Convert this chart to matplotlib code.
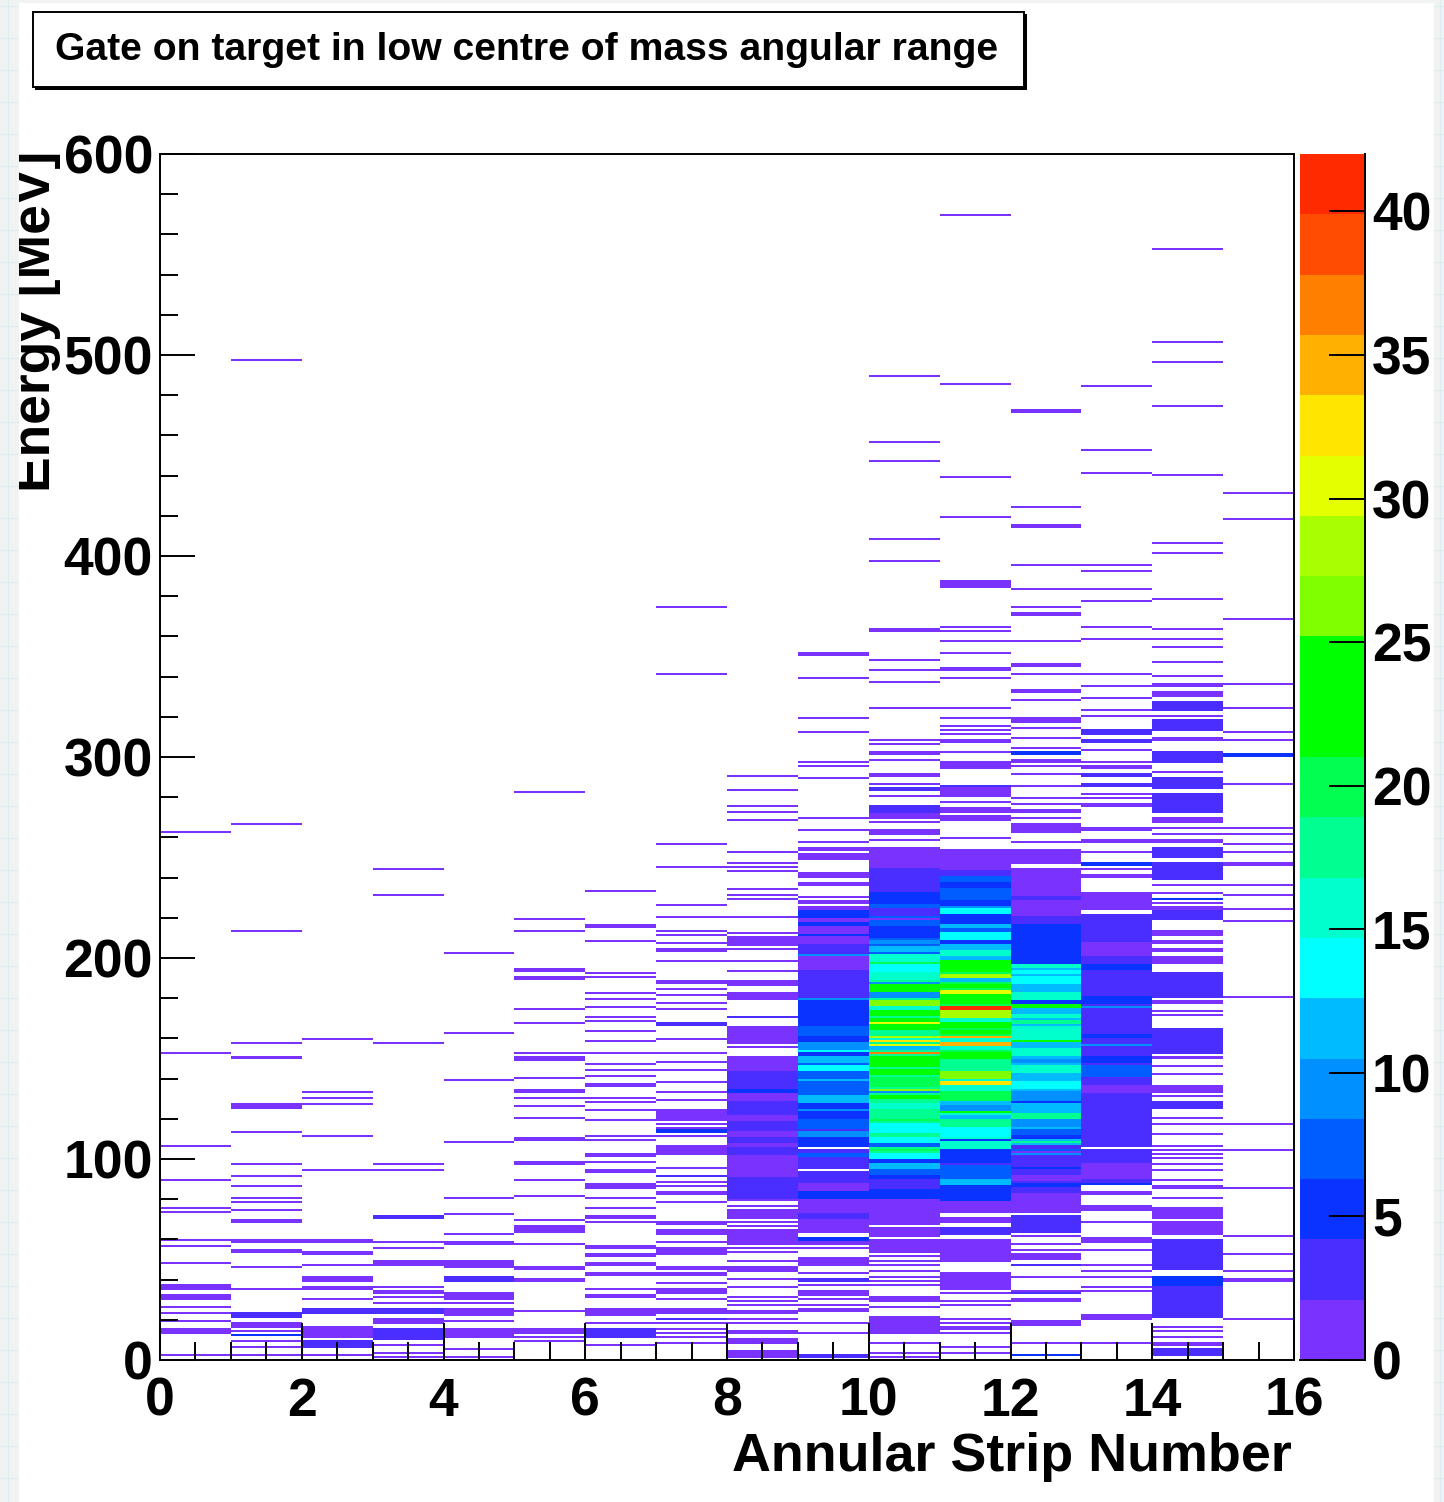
import numpy as np
import matplotlib
matplotlib.use("Agg")
import matplotlib.pyplot as plt
from matplotlib.colors import ListedColormap, BoundaryNorm
from matplotlib.lines import Line2D
from matplotlib.patches import Rectangle
from matplotlib.ticker import MultipleLocator
from matplotlib.transforms import Bbox

plt.rcParams['font.family'] = ['Liberation Sans', 'DejaVu Sans']

# single 1 MeV bins holding one count, per strip
strip0_lines = [2.5, 19.6, 23.3, 26.9, 48.8, 56.1, 59.9, 73.3, 75.8, 89, 106.2, 152.5, 262.4]
strip1_lines = [2.2, 6.7, 9.7, 14.3, 35.7, 46.3, 74.3, 78.1, 80.5, 86.6, 91.6, 97.5, 113.5, 150.2, 157.4, 213.5, 266, 497.5]
strip2_lines = [2, 11.2, 30.5, 47.5, 94, 111, 127, 130.6, 133, 159.9]
strip3_lines = [1.7, 3.4, 7.5, 28.1, 31.5, 36.2, 55.1, 58.9, 94, 97.5, 157.4, 231.9, 244.2]
strip4_lines = [1.7, 5, 19.6, 22, 28.1, 62.2, 72, 80.5, 108.7, 139, 162.3, 202.6]
strip5_lines = [9.7, 11.6, 24.6, 45.1, 46.8, 57.9, 69.3, 81.8, 89, 120.8, 126.9, 130.5, 140.3, 152.6, 167.2, 174.5, 213.4, 219.4, 282.6]
strip6_lines = [7.8, 18, 35.7, 68.4, 75.7, 80.5, 93.9, 94, 98.2, 109.1, 111.1, 119.8, 124.4, 128, 130.5, 141.5, 144, 147.6, 152.6,
                158.6, 163.4, 168.3, 170.8, 175.8, 179.4, 182.9, 190.2, 192.7, 208.6, 233]
strip7_lines = [8.3, 11.7, 13.3, 15.8, 18, 58.6, 78.1, 86.6, 88.3, 95.4, 111.1, 115.8, 117.3, 129.4, 133, 138.8, 144, 148.4, 159.9,
                174.5, 177, 181.6, 184.1, 198.8, 207.8, 211.4, 213.4, 220.9, 226.9, 245.8, 256.2, 341.8, 374.6]
strip8_lines = [20, 18.3, 27.4, 29.9, 31.5, 36.5, 40.7, 49, 53.1, 55.3, 57.2, 66, 68.4, 76.8, 79.3, 100, 103.7, 155, 206, 212.3,
                229.5, 231.9, 234.3, 243, 245.3, 247.8, 252.8, 268.5, 272.1, 275.8, 283, 290.4]
strip9_lines = [1.7, 13, 18, 27, 30, 37, 43, 55, 224.7, 228, 230.5, 257.4, 263.5, 269.5, 289.2, 295.2, 297.5, 312.3, 319.6, 339]
strip10_lines = [1.7, 3.7, 8.7, 13, 26.6, 37.4, 39, 41.5, 44, 47.3, 49.8, 51.4, 59.7, 67.2, 75.5, 79.6, 258.7, 267.2, 280.6,
                 286.6, 298.8, 306.1, 308.5, 324.5, 337.8, 343.8, 348.7, 397.7, 408.6, 447.8, 456.2, 489.2]
strip11_lines = [3.7, 13, 18, 20, 27, 29, 33.5, 35, 259.5, 277, 302.5, 311, 313.6, 315.9, 319.6, 324.5, 339, 351.2, 357.4, 362.4,
                 364.9, 419.6, 439.2, 485.6, 569.8]
strip12_lines = [8, 34, 41, 54, 57, 61, 64, 69, 73, 269.5, 279.4, 291.5, 295.5, 304.8, 328, 357.4, 374.5, 383.1, 395.2, 424.6]
strip13_lines = [8.3, 34, 36.9, 41.5, 44, 54.8, 68.8, 75.5, 82, 224.7, 226, 279, 281.6, 297.7, 303.8, 320.7, 323.2, 329.4, 335.5,
                 341.6, 358.2, 364.9, 377, 383.1, 392.7, 395.2, 441.5, 452.6, 484.3]
strip14_lines = [11.7, 14.1, 16.1, 80.5, 89.2, 94, 97.9, 100.4, 102, 104.5, 106.2, 112.8, 117.5, 120.3, 131, 142, 146.5, 150,
                 171, 173.4, 224.7, 227.2, 232.7, 236, 261.2, 264, 292.2, 308, 309.6, 320.7, 340.3, 347.6, 354.9, 358.6, 363.6,
                 378.1, 401.4, 406.3, 440.3, 474.5, 496.4, 506.1, 552.6]
strip15_lines = [20.3, 44, 52.3, 61, 85.4, 104, 117.5, 180.8, 218.6, 224.8, 231.9, 236.7, 252.6, 256.2, 261.2, 264.9, 286.6,
                 308.6, 312.3, 324.5, 336.8, 368.5, 418.4, 431.9]

# (from MeV, to MeV, counts) for wider or busier runs, later runs overwrite earlier ones
strip0_bands = [(13, 16, 2), (30, 33, 1), (35, 38, 1)]
strip1_bands = [(12, 13, 5), (16, 19, 2), (21, 24, 3), (53, 55, 2), (58, 60, 2), (68, 70, 2), (125, 128, 2)]
strip2_bands = [(6, 10, 3), (12, 17, 2), (23, 26, 3), (35, 37, 1), (39, 42, 2), (52, 54, 2), (58, 60, 2)]
strip3_bands = [(10, 16, 3), (18, 21, 2), (23, 26, 3), (33, 35, 2), (47, 50, 2), (70, 72, 4)]
strip4_bands = [(11, 16, 2), (23, 26, 2), (30, 34, 2), (39, 42, 3), (46, 50, 2), (57, 59, 2)]
strip5_bands = [(13, 16, 2), (39, 41, 2), (63, 67, 2), (97, 99, 2), (109, 111, 2), (133, 135, 2), (149, 151, 2), (189, 191, 2), (193, 195, 2)]
strip6_bands = [(11, 16, 3), (22, 26, 2), (31, 33, 2), (42, 44, 2), (47, 49, 2), (51, 53, 2), (55, 57, 2), (70, 72, 2), (85, 88, 2),
                (101, 103, 2), (136, 138, 2), (215, 217, 2)]
strip7_bands = [(20, 21, 4), (23, 26, 2), (30, 31, 2), (33, 36, 2), (38, 39, 2), (42, 44, 2), (45, 47, 2), (52, 56, 2), (62, 65, 2),
                (67, 69, 2), (82, 84, 2), (91, 92, 4), (102, 107, 2), (113, 115, 5), (119, 125, 2), (152, 153, 2), (166, 168, 4),
                (187, 189, 2), (203, 205, 2)]
strip8_bands = [(80, 151, 2), (1, 5, 2), (8, 11, 2), (13, 15, 2), (23, 25, 2), (44, 47, 2), (58, 65, 2), (70, 75, 2), (80, 91, 3), (91, 99, 2),
                (102, 106, 3), (108, 111, 3), (114, 119, 3), (122, 129, 3), (130, 132, 2), (133, 135, 5), (135, 138, 3), (138, 144, 3),
                (144, 151, 2), (157, 166, 2), (170, 171, 3), (179, 183, 2), (186, 189, 2), (193, 194, 2), (198, 199, 2), (204, 205, 2),
                (207, 211, 2), (220, 221, 2)]
strip9_bands = [(63, 94, 3), (95, 105, 3), (106, 224, 6), (1, 3, 3), (24, 26, 2), (32, 35, 2), (39, 41, 3), (47, 51, 2), (57, 59, 2), (59, 61, 5), (63, 70, 2), (70, 73, 3),
                (73, 80, 2), (80, 84, 5), (84, 88, 2), (88, 93, 3), (95, 101, 4), (101, 103, 7), (103, 105, 3), (107, 111, 5),
                (111, 114, 9), (114, 115, 3), (115, 120, 7), (120, 124, 6), (124, 125, 9), (125, 128, 5), (128, 132, 12), (132, 134, 8),
                (134, 139, 7), (139, 140, 12), (140, 144, 7), (144, 147, 13), (147, 148, 7), (148, 151, 11), (151, 153, 5), (153, 154, 13),
                (154, 158, 10), (159, 161, 5), (161, 166, 7), (167, 172, 6), (172, 179, 5), (179, 180, 9), (180, 186, 4), (186, 190, 4),
                (190, 194, 3), (194, 201, 2), (201, 202, 9), (202, 204, 4), (204, 207, 3), (207, 211, 2), (212, 216, 2), (218, 220, 2),
                (224, 226, 1), (227, 229, 1), (236, 238, 2), (240, 243, 2), (249, 252, 2), (253, 255, 2), (350, 352, 1)]
strip10_bands = [(80, 100, 5), (100, 200, 17), (200, 229, 8), (14, 22, 2), (29, 32, 2), (53, 59, 2), (61, 66, 2), (68, 75, 2), (76, 79, 2), (80, 85, 6), (85, 87, 3), (87, 90, 4),
                 (90, 92, 6), (92, 95, 7), (95, 98, 11), (98, 100, 6), (100, 103, 13), (104, 105, 20), (106, 108, 7), (108, 111, 13),
                 (113, 118, 13), (119, 120, 20), (121, 124, 18), (125, 128, 15), (130, 132, 21), (133, 134, 9), (134, 135, 26),
                 (136, 141, 19), (142, 145, 23), (146, 151, 24), (152, 153, 36), (154, 156, 12), (156, 157, 31), (157, 158, 18),
                 (158, 159, 33), (159, 160, 16), (160, 161, 28), (162, 164, 17), (164, 167, 24), (167, 168, 31), (168, 170, 21),
                 (171, 174, 22), (174, 176, 15), (176, 179, 26), (180, 183, 10), (183, 187, 22), (187, 188, 10), (189, 193, 15),
                 (193, 197, 13), (197, 198, 19), (198, 202, 15), (203, 206, 11), (207, 209, 10), (210, 216, 6), (216, 218, 7),
                 (219, 220, 2), (221, 225, 4), (227, 229, 6), (229, 233, 6), (233, 238, 4), (238, 243, 3), (243, 245, 4), (245, 255, 2),
                 (261, 264, 2), (269, 272, 2), (272, 276, 4), (283, 285, 3), (290, 292, 2), (301, 303, 2), (362, 364, 2)]
strip11_bands = [(79, 100, 6), (100, 140, 15), (140, 200, 20), (200, 229, 9), (6, 7, 2), (15, 17, 1), (35, 44, 2), (49, 60, 2), (62, 66, 3), (68, 71, 2), (73, 79, 2), (79, 86, 5), (87, 90, 11),
                 (90, 97, 8), (97, 98, 4), (100, 105, 6), (106, 109, 15), (109, 110, 6), (111, 112, 13), (112, 116, 14), (116, 120, 17),
                 (120, 122, 12), (123, 124, 22), (124, 127, 9), (127, 129, 11), (129, 134, 19), (134, 136, 16), (137, 139, 32), (140, 144, 27),
                 (144, 150, 17), (150, 153, 24), (154, 156, 16), (156, 158, 35), (158, 160, 16), (160, 161, 34), (162, 164, 25), (165, 168, 22),
                 (168, 170, 15), (170, 174, 28), (174, 176, 40), (177, 182, 24), (182, 184, 30), (185, 187, 22), (188, 190, 11), (190, 192, 28),
                 (193, 199, 21), (199, 201, 11), (201, 204, 15), (204, 207, 11), (207, 209, 5), (209, 213, 13), (213, 215, 7), (215, 217, 11),
                 (217, 222, 5), (222, 225, 13), (226, 229, 6), (229, 235, 7), (235, 238, 5), (238, 241, 7), (241, 244, 4), (244, 254, 2),
                 (268, 271, 2), (272, 275, 2), (280, 285, 2), (285, 286, 4), (294, 298, 2), (307, 309, 2), (343, 345, 2), (384, 388, 2)]
strip12_bands = [(80, 105, 3), (105, 197, 11), (197, 229, 4), (243, 245, 2), (2, 3, 5), (17, 20, 2), (29, 31, 2), (33, 34, 4), (47, 48, 4), (50, 53, 2), (63, 72, 3), (74, 83, 2), (83, 86, 3),
                 (86, 88, 5), (89, 92, 2), (95, 96, 5), (96, 101, 3), (102, 103, 10), (103, 104, 2), (104, 105, 7), (105, 107, 4), (108, 109, 18),
                 (110, 112, 5), (112, 115, 7), (116, 120, 10), (120, 122, 18), (122, 123, 17), (124, 127, 11), (128, 129, 5), (129, 134, 9),
                 (135, 139, 13), (140, 143, 11), (143, 147, 16), (148, 150, 10), (151, 155, 16), (155, 158, 11), (158, 159, 22), (159, 166, 15),
                 (167, 169, 18), (170, 172, 15), (172, 174, 11), (175, 177, 24), (177, 179, 5), (179, 183, 15), (184, 186, 11), (187, 191, 13),
                 (192, 194, 14), (195, 197, 16), (197, 207, 6), (207, 217, 5), (217, 220, 3), (221, 224, 2), (224, 226, 2), (226, 229, 2), (229, 231, 4),
                 (231, 243, 2), (247, 254, 2), (257, 258, 1), (262, 267, 2), (272, 274, 2), (276, 277, 2), (285, 286, 2), (297, 299, 2), (301, 303, 5),
                 (309, 310, 2), (314, 315, 2), (317, 320, 2), (332, 334, 2), (341, 342, 2), (345, 347, 2), (370, 372, 2), (414, 416, 2), (471, 473, 2)]
strip13_bands = [(88, 105, 3), (106, 222, 3), (20, 23, 2), (47, 48, 2), (58, 61, 2), (74, 77, 2), (82, 84, 2), (87, 88, 5), (90, 98, 2), (98, 105, 3), (107, 111, 3),
                 (111, 113, 4), (113, 116, 3), (120, 122, 3), (123, 129, 3), (129, 131, 3), (133, 137, 2), (137, 140, 3), (141, 147, 7), (148, 151, 6),
                 (152, 155, 3), (156, 157, 10), (158, 159, 3), (160, 162, 5), (163, 168, 3), (168, 171, 4), (173, 174, 3), (175, 176, 10), (177, 181, 5),
                 (181, 184, 4), (184, 188, 3), (188, 194, 4), (194, 197, 6), (197, 201, 4), (201, 208, 2), (208, 211, 3), (214, 216, 3),
                 (218, 222, 3), (224, 229, 2), (229, 233, 2), (240, 242, 2), (244, 245, 2), (246, 248, 5), (252, 253, 2), (257, 259, 2), (263, 265, 2),
                 (275, 277, 2), (285, 287, 3), (290, 292, 3), (294, 296, 2), (307, 309, 3), (311, 314, 3)]
strip14_bands = [(2, 6, 3), (7, 9, 2), (21, 37, 4), (37, 42, 6), (45, 60, 3), (62, 69, 2), (70, 76, 2), (85, 87, 2), (125, 129, 3), (133, 137, 2),
                 (152, 165, 3), (159, 161, 4), (177, 179, 2), (180, 193, 3), (197, 201, 2), (203, 205, 2), (207, 209, 2), (211, 214, 2), (219, 224, 3),
                 (225, 226, 2), (229, 230, 5), (239, 248, 3), (250, 255, 4), (257, 259, 2), (267, 270, 2), (272, 282, 3), (284, 290, 3), (297, 303, 3),
                 (313, 319, 3), (323, 328, 3), (330, 333, 2), (335, 337, 2)]
strip15_bands = [(39, 41, 2), (246, 248, 1), (300, 302, 5)]

all_lines = [strip0_lines, strip1_lines, strip2_lines, strip3_lines, strip4_lines, strip5_lines, strip6_lines, strip7_lines,
             strip8_lines, strip9_lines, strip10_lines, strip11_lines, strip12_lines, strip13_lines, strip14_lines, strip15_lines]
all_bands = [strip0_bands, strip1_bands, strip2_bands, strip3_bands, strip4_bands, strip5_bands, strip6_bands, strip7_bands,
             strip8_bands, strip9_bands, strip10_bands, strip11_bands, strip12_bands, strip13_bands, strip14_bands, strip15_bands]

palette = ['#7a33ff', '#4a2eff', '#0a33ff', '#005dff', '#0090ff', '#00bbff', '#00ffff', '#00ffcc', '#00ff90', '#00ff50',
           '#00ff00', '#00ff00', '#7fff00', '#a8ff00', '#e4ff00', '#ffe600', '#ffb000', '#ff8000', '#ff4c00', '#ff2a00']
max_count = 42

W, H = 1444, 1502


def fx(px):
    return px / W


def fy(py):
    return 1 - py / H


counts = np.zeros((600, 16))
for s in range(16):
    for lo, hi, n in all_bands[s]:
        counts[lo:hi, s] = n
    for e in all_lines[s]:
        if counts[int(e), s] == 0:
            counts[int(e), s] = 1

fig = plt.figure(figsize=(W / 100, H / 100), dpi=100, facecolor='#f1f3f3')

# faint page pattern behind the white sheet
for py in range(6, H, 32):
    fig.add_artist(Line2D([0, 1], [fy(py), fy(py)], color='#dcecf0', lw=0.8, zorder=-3))
for px in [8, 1440]:
    fig.add_artist(Line2D([fx(px), fx(px)], [0, 1], color='#dcecf0', lw=0.8, zorder=-3))
fig.add_artist(Rectangle((fx(19), 0), fx(1434 - 19), fy(3), transform=fig.transFigure, facecolor='white', edgecolor='none', zorder=-2))

ax = fig.add_axes([fx(160), fy(1360), fx(1294 - 160), (1360 - 154) / H])
cmap = ListedColormap(palette)
levels = np.linspace(0, max_count, 21)
norm = BoundaryNorm(levels, cmap.N)
xedges = np.arange(17)
yedges = np.arange(601)
mesh = ax.pcolormesh(xedges, yedges, np.ma.masked_equal(counts, 0), cmap=cmap, norm=norm, antialiased=False, linewidth=0)
ax.set_xlim(0, 16)
ax.set_ylim(0, 600)
ax.xaxis.set_major_locator(MultipleLocator(2))
ax.xaxis.set_minor_locator(MultipleLocator(0.5))
ax.yaxis.set_major_locator(MultipleLocator(100))
ax.yaxis.set_minor_locator(MultipleLocator(20))
ax.tick_params(axis='x', which='major', direction='in', length=37 * 0.72, width=1.4, labelsize=38.5, pad=12)
ax.tick_params(axis='x', which='minor', direction='in', length=18 * 0.72, width=1.4)
ax.tick_params(axis='y', which='major', direction='in', length=35 * 0.72, width=1.4, labelsize=38.5, pad=5)
ax.tick_params(axis='y', which='minor', direction='in', length=18 * 0.72, width=1.4)
for lab in ax.get_xticklabels() + ax.get_yticklabels():
    lab.set_fontweight('bold')
for lab in ax.get_yticklabels():
    lab.set_verticalalignment('center_baseline')
for sp in ax.spines.values():
    sp.set_linewidth(1.4)

cax = fig.add_axes([fx(1300), fy(1360), fx(65), (1360 - 154) / H])
cb = fig.colorbar(mesh, cax=cax, ticks=np.arange(0, 41, 5), spacing='proportional', drawedges=False)
cb.outline.set_visible(False)
cax.spines['right'].set_visible(True)
cax.spines['right'].set_linewidth(1.4)
cax.spines['bottom'].set_visible(True)
cax.spines['bottom'].set_linewidth(1.4)
cax.tick_params(which='major', direction='in', length=36 * 0.72, width=1.4, labelsize=38.5, pad=5)
cax.tick_params(which='minor', length=0)
for lab in cax.get_yticklabels():
    lab.set_fontweight('bold')
    lab.set_verticalalignment('center_baseline')

fig.text(fx(1292), fy(1471), 'Annular Strip Number', ha='right', va='baseline', fontsize=38.8, fontweight='bold')
yl = fig.text(fx(50), fy(492), 'Energy [MeV]', rotation=90, ha='left', va='baseline', rotation_mode='anchor',
              fontsize=38.4, fontweight='bold')
yl.set_clip_on(True)
yl.set_clip_box(Bbox([[19, 0], [W, H]]))
yl.set_clip_path(None)

# title box with its shadow
fig.add_artist(Rectangle((fx(35), fy(90)), fx(992), 76 / H, transform=fig.transFigure, facecolor='black', edgecolor='none', zorder=1))
fig.add_artist(Rectangle((fx(33), fy(87)), fx(991), 75 / H, transform=fig.transFigure, facecolor='white', edgecolor='black', lw=1.4, zorder=1.1))
fig.text(fx(55), fy(50), 'Gate on target in low centre of mass angular range', ha='left', va='center', fontsize=28.2, fontweight='bold')

fig.savefig('out.png', dpi=100, facecolor=fig.get_facecolor())
